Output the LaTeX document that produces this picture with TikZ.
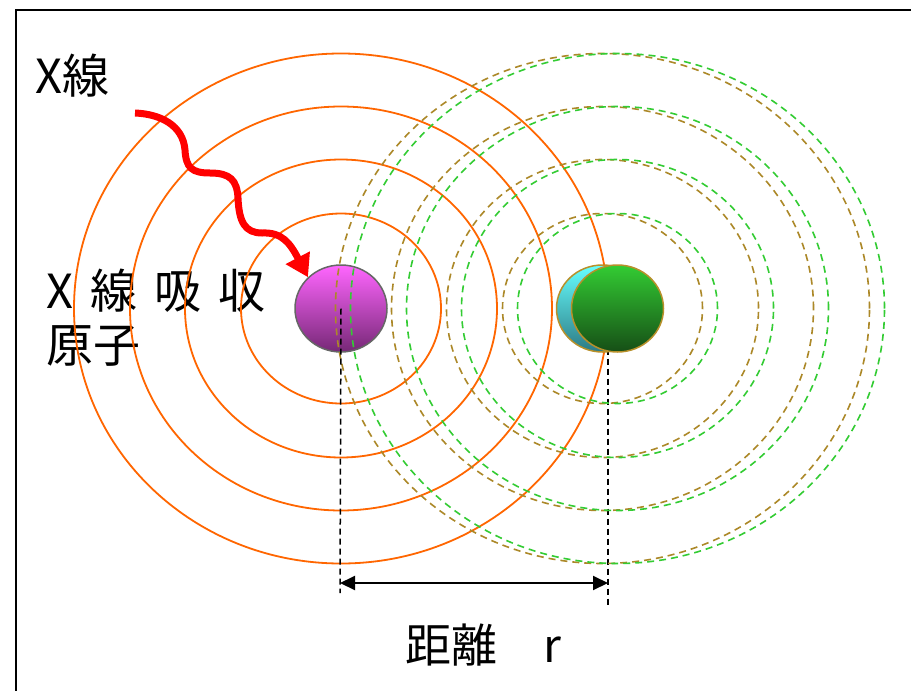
\documentclass[tikz,border=0pt]{standalone}
\usepackage{fontspec}
\setmainfont{Noto Sans CJK JP}
\usetikzlibrary{arrows.meta,shapes.geometric}

\definecolor{waveorange}{RGB}{255,102,0}
\definecolor{wavebrown}{RGB}{172,136,40}
\definecolor{wavegreen}{RGB}{51,204,51}
\definecolor{atomedge}{RGB}{184,144,42}
\definecolor{purpleT}{RGB}{255,102,255}
\definecolor{purpleM}{RGB}{214,82,214}
\definecolor{purpleB}{RGB}{118,40,118}
\definecolor{greenT}{RGB}{51,204,51}
\definecolor{greenM}{RGB}{40,160,40}
\definecolor{greenB}{RGB}{22,78,22}
\definecolor{cyanT}{RGB}{102,255,255}
\definecolor{cyanB}{RGB}{45,122,132}

\tikzset{
  bigtext/.style={font=\fontsize{47}{50}\selectfont, inner sep=0pt, anchor=west},
  atom/.style={ellipse, minimum width=92pt, minimum height=87pt, inner sep=0pt, line width=1.5pt},
  orangewave/.style={draw=waveorange, line width=1.8pt},
  brownwave/.style={draw=wavebrown, line width=1.6pt, dash pattern=on 7pt off 5pt},
  greenwave/.style={draw=wavegreen, line width=1.6pt, dash pattern=on 7pt off 5pt},
  guide/.style={draw=black, line width=1.5pt, dash pattern=on 6pt off 4pt},
  dim/.style={draw=black, line width=2pt, {Triangle[length=15pt,width=14pt]}-{Triangle[length=15pt,width=14pt]}},
  xray/.style={draw=red, line width=7pt, -{Triangle[length=22pt,width=26pt]}}
}

\begin{document}
\begin{tikzpicture}[x=1pt,y=-1pt]
  \clip (0,0) rectangle (911,691);
  \fill[white] (0,0) rectangle (911,691);
  % outer frame
  \draw[line width=2.5pt] (16,10) rectangle (960,740);

  % centres of the three atoms
  \coordinate (cabs) at (341,308.5);
  \coordinate (ccyan) at (602.5,308.5);
  \coordinate (cgreen) at (617.5,308.5);
  % guide and dimension end points
  \coordinate (lfoot) at (340,593);
  \coordinate (rtop) at (608,308.5);
  \coordinate (rfoot) at (608,605);
  \coordinate (dl) at (340,583);
  \coordinate (dr) at (608,583);
  \coordinate (xstart) at (135,113);

  % labels
  \node[bigtext] (xlabel) at (35,76) {X線};
  \node[bigtext] (abslabel) at (46,291) {{\spaceskip=17pt X 線 吸 収}};
  \node[bigtext] (atomlabel) at (46,346) {原子};
  \node[bigtext, font=\fontsize{46}{48}\selectfont] (distlabel) at (405,645) {距離　r};

  % emitted wave around the absorbing atom
  \foreach \rx/\ry in {100/95,156/149,211/202,267/255}
    \draw[orangewave] (cabs) ellipse [x radius=\rx pt, y radius=\ry pt];

  % right guide line, hidden behind the neighbouring atom
  \draw[guide] (rtop) -- (rfoot);

  % atoms
  \node[atom, draw=atomedge, top color=cyanT, bottom color=cyanB] (cyanatom) at (ccyan) {};
  \node[atom, draw=atomedge, top color=greenT, middle color=greenM, bottom color=greenB] (greenatom) at (cgreen) {};
  \node[atom, draw=black!60, top color=purpleT, middle color=purpleM, bottom color=purpleB] (absatom) at (cabs) {};

  % scattered waves around the neighbouring atom
  \foreach \rx/\ry in {100/95,156/149,211/202,267/255}{
    \draw[brownwave] (ccyan) ellipse [x radius=\rx pt, y radius=\ry pt];
    \draw[greenwave] (cgreen) ellipse [x radius=\rx pt, y radius=\ry pt];
  }

  % left guide line and distance arrow
  \draw[guide] (absatom.center) -- (lfoot);
  \draw[dim] (dl) -- (dr);

  % incoming X-ray
  \draw[xray] (xstart)
    .. controls (160,114) and (183,125) .. (185,150)
    .. controls (186,168) and (192,173) .. (210,173)
    .. controls (230,173) and (237,180) .. (238,198)
    .. controls (239,222) and (245,233) .. (262,233)
    .. controls (282,232) and (290,243) .. (absatom.north west);
\end{tikzpicture}
\end{document}
